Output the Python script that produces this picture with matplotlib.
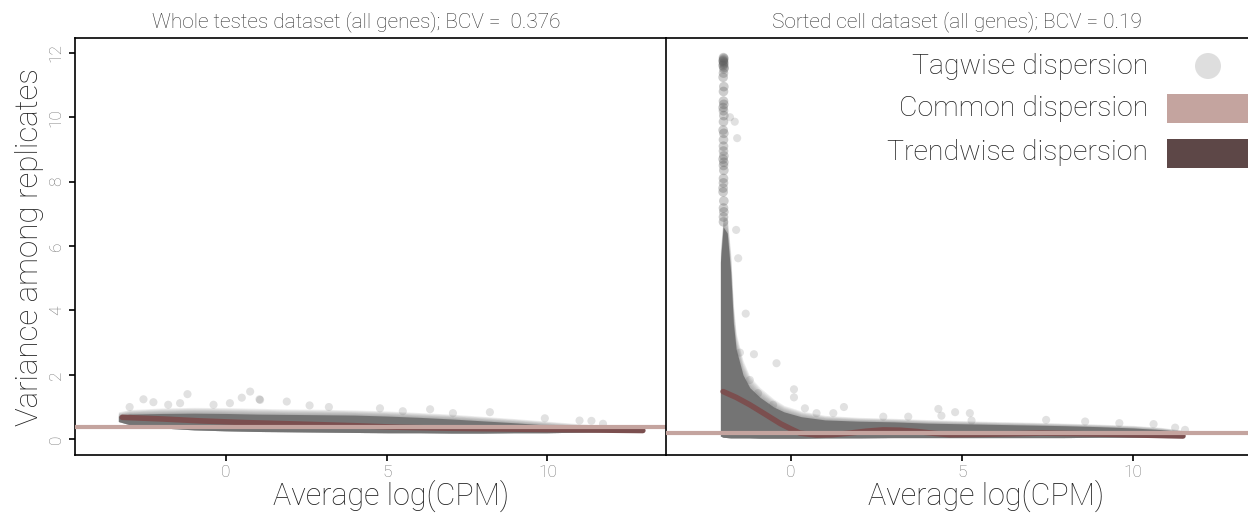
import matplotlib
matplotlib.use("Agg")
import matplotlib.pyplot as plt
from matplotlib.patches import Rectangle, Ellipse

plt.rcParams['font.family'] = ['Roboto', 'DejaVu Sans']
plt.rcParams['font.weight'] = 'light'

# ---- data ----
TITLE_LEFT = "Whole testes dataset (all genes); BCV =  0.376"
TITLE_RIGHT = "Sorted cell dataset (all genes); BCV = 0.19"
XLABEL = "Average log(CPM)"
YLABEL = "Variance among replicates"
LEGEND_LABELS = ["Tagwise dispersion", "Common dispersion", "Trendwise dispersion"]
X_TICKS = [0, 5, 10]
Y_TICKS = [0, 2, 4, 6, 8, 10, 12]

common_left = 0.376
common_right = 0.19

# whole testes: dense cloud envelope
left_cloud_x = [-3.35, -3.0, -2.0, -1.0, 0, 1, 2, 3, 4, 5, 6, 7, 8, 9, 10, 11, 12, 12.8]
left_core_hi = [0.72, 0.78, 0.8, 0.81, 0.8, 0.78, 0.77, 0.76, 0.75, 0.72, 0.68, 0.63, 0.57, 0.51, 0.44, 0.37, 0.32, 0.29]
left_fringe_hi = [0.85, 0.92, 0.97, 0.99, 0.98, 0.96, 0.94, 0.93, 0.91, 0.88, 0.83, 0.78, 0.71, 0.64, 0.56, 0.48, 0.41, 0.34]
left_core_lo = [0.55, 0.45, 0.35, 0.29, 0.26, 0.24, 0.23, 0.22, 0.21, 0.2, 0.2, 0.19, 0.19, 0.2, 0.2, 0.22, 0.24, 0.26]
left_out_x = [-2.57, -1.2, 0.75, 0.49, 1.04, -2.26, -1.43, -0.39, 1.89, -1.8, 0.12, 6.35, 8.21, 7.06,
              9.92, 11.0, 11.37, 11.73, 5.5, 4.79, 1.06, -3.0, 3.2, 2.6]
left_out_y = [1.24, 1.40, 1.48, 1.29, 1.24, 1.15, 1.12, 1.07, 1.17, 1.07, 1.12, 0.93, 0.84, 0.81,
              0.65, 0.58, 0.57, 0.48, 0.87, 0.96, 1.22, 1.0, 1.0, 1.05]
left_trend_x = [-3.23, -2, -0.81, 0.5, 2.3, 4, 5.4, 7, 9.24, 11, 12.97]
left_trend_y = [0.68, 0.63, 0.57, 0.52, 0.47, 0.42, 0.37, 0.34, 0.31, 0.29, 0.27]

# sorted cells: dense cloud envelope
right_cloud_x = [-2.06, -1.98, -1.86, -1.76, -1.68, -1.6, -1.4, -1.2, -0.9, -0.5, -0.2, 0.3, 1.0,
                 2.0, 3.0, 4.0, 5.0, 6.0, 7.0, 8.0, 9.0, 10.0, 10.8, 11.4]
right_core_hi = [5.5, 6.6, 6.4, 5.2, 3.6, 2.8, 2.0, 1.6, 1.3, 1.0, 0.85, 0.7, 0.6,
                 0.56, 0.54, 0.5, 0.48, 0.46, 0.44, 0.42, 0.39, 0.35, 0.3, 0.24]
right_fringe_hi = [5.9, 6.9, 6.9, 5.8, 4.2, 3.3, 2.45, 1.95, 1.6, 1.25, 1.05, 0.88, 0.74,
                   0.68, 0.65, 0.61, 0.58, 0.55, 0.53, 0.5, 0.47, 0.43, 0.37, 0.29]
right_core_lo = [0.1, 0.06, 0.05, 0.04, 0.04, 0.04, 0.04, 0.04, 0.03, 0.03, 0.03, 0.03, 0.04,
                 0.04, 0.05, 0.05, 0.05, 0.05, 0.05, 0.05, 0.06, 0.06, 0.07, 0.08]
right_col_x = [-1.97, -1.96, -1.97, -1.98, -1.97, -1.96, -1.97, -1.98, -1.95, -1.96, -1.97,
               -1.98, -1.96, -1.97, -1.97, -1.96, -1.98, -1.97, -1.96, -1.97, -1.98, -1.96,
               -1.97, -1.97, -1.96, -1.98, -1.97, -1.96, -1.97, -1.98, -1.97, -1.96, -1.97,
               -1.97, -1.96, -1.98, -1.97, -1.96, -1.97]
right_col_y = [11.85, 11.82, 11.78, 11.75, 11.72, 11.68, 11.64, 11.6, 11.55, 11.5, 11.37,
               11.24, 10.95, 10.8, 10.5, 10.4, 10.3, 10.2, 10.05, 9.86, 9.6, 9.5,
               9.1, 8.95, 8.8, 8.7, 8.5, 8.35, 7.96, 7.68, 7.18, 7.06, 6.75,
               6.9, 7.4, 7.8, 8.1, 8.6, 9.3]
right_out_x = [-1.64, -1.57, -1.78, -1.6, -1.54, -1.32, -1.08, -0.42, 0.09, 0.09, 1.55, 4.31,
               -1.49, -1.2, -0.96, -0.52, 0.41, 0.75, 1.24, 2.7, 3.43, 4.8, 5.23, 4.4,
               7.46, 10.6, 11.23, 11.52, 5.28, 8.6, 9.6]
right_out_y = [9.86, 9.35, 10.0, 6.5, 5.62, 3.9, 2.64, 2.36, 1.55, 1.30, 1.0, 0.94,
               2.69, 1.84, 1.43, 1.07, 0.96, 0.81, 0.81, 0.7, 0.7, 0.84, 0.81, 0.73,
               0.6, 0.47, 0.36, 0.29, 0.58, 0.55, 0.5]
right_trend_x = [-1.98, -1.6, -1.2, -0.71, -0.3, 0.0, 0.26, 0.75, 1.2, 1.73, 2.2, 2.7, 3.2,
                 3.68, 4.2, 4.65, 5.5, 6.5, 7.3, 8.5, 9.5, 10.2, 11.0, 11.46]
right_trend_y = [1.48, 1.3, 1.07, 0.75, 0.48, 0.32, 0.19, 0.13, 0.14, 0.19, 0.25, 0.29, 0.28,
                 0.24, 0.18, 0.14, 0.15, 0.17, 0.19, 0.17, 0.15, 0.13, 0.11, 0.10]

# ---- style ----
W, H = 1248, 513
CORE = '#6e6e6e'
DOT = '#6a6a6a'
COMMON = '#c4a49f'
TREND = '#7b4f4f'
TREND_KEY = '#5d4747'
TICK_GREY = '#777777'
N_FADE = 6


def fx(px):
    return px / W


def fy(py):
    return 1 - py / H


fig = plt.figure(figsize=(W / 100, H / 100), dpi=100)

bottom = fy(455)
height = (455 - 38) / H
ax_l = fig.add_axes([fx(75), bottom, (666 - 75) / W, height])
ax_r = fig.add_axes([fx(666), bottom, (1248 - 666) / W, height])


def draw_panel(ax, cx, core_hi, fringe_hi, lo, ox, oy, tx, ty, common):
    # soft upper edge: stacked translucent bands between core and fringe
    for k in range(1, N_FADE + 1):
        t = k / N_FADE
        hi_k = [c + (f - c) * t for c, f in zip(core_hi, fringe_hi)]
        ax.fill_between(cx, lo, hi_k, color=CORE, alpha=0.12, lw=0, zorder=1)
    ax.fill_between(cx, lo, core_hi, color=CORE, alpha=0.9, lw=0, zorder=2)
    ax.scatter(ox, oy, s=34, color=DOT, alpha=0.2, edgecolors='none', zorder=3)
    ax.plot(tx, ty, color=TREND, lw=4.0, solid_capstyle='round', zorder=4)
    ax.axhline(common, color=COMMON, lw=3.0, zorder=5)


draw_panel(ax_l, left_cloud_x, left_core_hi, left_fringe_hi, left_core_lo,
           left_out_x, left_out_y, left_trend_x, left_trend_y, common_left)
draw_panel(ax_r, right_cloud_x, right_core_hi, right_fringe_hi, right_core_lo,
           right_out_x, right_out_y, right_trend_x, right_trend_y, common_right)
ax_r.scatter(right_col_x, right_col_y, s=48, color='#5a5a5a', alpha=0.3,
             edgecolors='none', zorder=3)

ax_l.set_xlim(-4.70, 13.69)
ax_r.set_xlim(-3.65, 13.36)
for ax in (ax_l, ax_r):
    ax.set_ylim(-0.49, 12.46)
    ax.set_xticks(X_TICKS)
    ax.set_yticks(Y_TICKS)
    ax.tick_params(axis='both', length=4, width=1.2, color='black',
                   labelcolor=TICK_GREY, labelsize=12.5)
    ax.tick_params(axis='x', pad=3)
    for s in ax.spines.values():
        s.set_linewidth(1.2)
        s.set_color('black')

ax_l.tick_params(axis='y', pad=4)
for lab in ax_l.get_yticklabels():
    lab.set_rotation(90)
    lab.set_va('center')
ax_l.spines['right'].set_visible(False)
ax_r.spines['right'].set_visible(False)
ax_r.tick_params(axis='y', left=False, labelleft=False)

# titles and axis labels
fig.text(fx(356), fy(22), TITLE_LEFT, ha='center', va='center', fontsize=15, color='#333333')
fig.text(fx(957), fy(22), TITLE_RIGHT, ha='center', va='center', fontsize=15, color='#333333')
fig.text(fx(391), fy(505), XLABEL, ha='center', va='baseline', fontsize=22, color='#222222')
fig.text(fx(986), fy(505), XLABEL, ha='center', va='baseline', fontsize=22, color='#222222')
fig.text(fx(30), fy(247), YLABEL, ha='center', va='center', rotation=90, fontsize=22.5, color='#222222')

# legend drawn by hand (keys run off the right edge like the original)
for label, py in zip(LEGEND_LABELS, [66, 108, 152]):
    fig.text(fx(1148), fy(py), label, ha='right', va='center', fontsize=20.5, color='#222222')
fig.patches.append(Ellipse((fx(1208), fy(66)), 26 / W, 26 / H, transform=fig.transFigure,
                           color='#dedede', lw=0))
fig.patches.append(Rectangle((fx(1167), fy(123)), 100 / W, 29 / H, transform=fig.transFigure,
                             color=COMMON, lw=0))
fig.patches.append(Rectangle((fx(1167), fy(168)), 100 / W, 29 / H, transform=fig.transFigure,
                             color=TREND_KEY, lw=0))

fig.savefig("out.png", dpi=100)
